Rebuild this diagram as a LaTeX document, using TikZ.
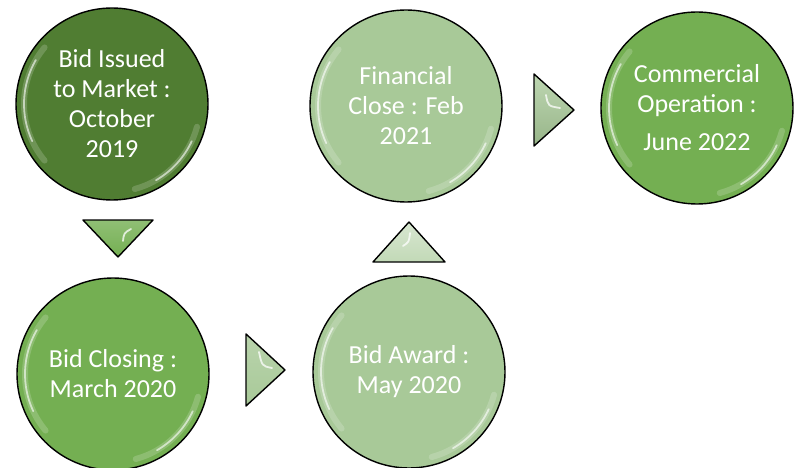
\documentclass[tikz,border=0pt]{standalone}
\usepackage{fontspec}
\setmainfont{Carlito}
\definecolor{deepgreen}{HTML}{507D32}
\definecolor{midgreen}{HTML}{74AF52}
\definecolor{palegreen}{HTML}{A8C998}
\begin{document}
\begin{tikzpicture}[x=1pt,y=1pt,
stage/.style = {draw, circle, line width=1.4pt, minimum size=192pt, inner sep=0pt, align=center, text=white, font=\fontsize{26}{30}\selectfont},
halo/.style = {white, line width=6pt, opacity=0.18, line cap=round},
gloss/.style = {white, line width=1.8pt, opacity=0.6, line cap=round},
pointer/.style = {draw, line width=1.4pt, line join=round},
glint/.style = {white, line width=1.8pt, opacity=0.75, line cap=round},]
\useasboundingbox (0,0) rectangle (796,467);
\node (issued) at (112,363)[stage,fill=deepgreen] {Bid Issued\\to Market :\\October\\2019};
\node (closing) at (113,93)[stage,fill=midgreen] {Bid Closing :\\March 2020};
\node (award) at (409,95)[stage,fill=palegreen] {Bid Award :\\May 2020};
\node (fclose) at (406,361)[stage,fill=palegreen] {Financial\\Close : Feb\\2021};
\node (operation) at (697,359)[stage,fill=midgreen] {Commercial\\Operation :\\[8pt]June 2022};
% shine along the rims
\foreach \s in {issued,closing,award,fclose,operation}{
\draw[halo] ([shift={(140:88pt)}]\s.center) arc (140:220:88pt);
\draw[gloss] ([shift={(150:88pt)}]\s.center) arc (150:205:88pt);
\draw[halo] ([shift={(-15:88pt)}]\s.center) arc (-15:-75:88pt);
\draw[gloss] ([shift={(-25:88pt)}]\s.center) arc (-25:-60:88pt);
}
% arrow heads between the stages
\draw[pointer,top color=midgreen!80!white,bottom color=midgreen] (83,247)--(153,247)--(118,210)--cycle;
\draw[pointer,top color=palegreen!80!white,bottom color=palegreen] (246,133)--(246,61)--(285,97)--cycle;
\draw[pointer,top color=palegreen!45!white,bottom color=palegreen!70!white] (409,245)--(373,205)--(445,205)--cycle;
\draw[pointer,top color=palegreen!75!white,bottom color=palegreen!90!black] (534,393)--(534,321)--(574,357)--cycle;
\draw[glint] (123,226) .. controls (124,234) .. (131,238);
\draw[glint] (259,115) .. controls (262,101) .. (272,99);
\draw[glint] (410,234) .. controls (409,225) .. (403,221);
\draw[glint] (546,372) .. controls (548,361) .. (560,359);
\end{tikzpicture}
\end{document}
